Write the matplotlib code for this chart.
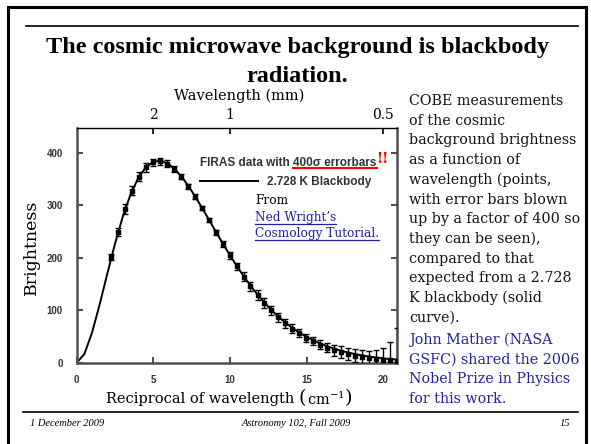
import numpy as np
import matplotlib
matplotlib.use('Agg')
import matplotlib.pyplot as plt
from matplotlib.patches import Rectangle
from matplotlib.lines import Line2D

W, H = 591, 444

# FIRAS points: reciprocal wavelength (cm^-1), brightness (MJy/sr), error bar x400
firas_nu = [2.27, 2.72, 3.18, 3.63, 4.08, 4.54, 4.99, 5.45, 5.90, 6.35, 6.81,
            7.26, 7.71, 8.17, 8.62, 9.08, 9.53, 9.98, 10.44, 10.89, 11.34,
            11.80, 12.25, 12.71, 13.16, 13.61, 14.07, 14.52, 14.97, 15.43,
            15.88, 16.34, 16.79, 17.24, 17.70, 18.15, 18.61, 19.06, 19.51,
            19.97, 20.42, 20.87]
firas_I = [200.7, 249.5, 293.0, 327.8, 354.1, 372.1, 381.5, 383.5, 378.9,
           368.8, 354.1, 336.3, 316.1, 293.9, 271.4, 248.2, 225.9, 204.3,
           183.3, 163.8, 145.8, 128.8, 113.6, 99.5, 86.7, 75.1, 64.9, 55.7,
           47.6, 40.4, 34.2, 28.8, 24.1, 20.0, 16.5, 13.6, 11.1, 8.9, 7.2,
           5.7, 4.5, 3.6]
firas_err = [5.6, 7.6, 10.0, 9.2, 8.8, 8.4, 7.2, 7.2, 6.4, 5.6, 5.2, 4.8, 4.4,
             4.0, 4.4, 4.8, 5.6, 6.4, 7.2, 8.8, 8.8, 9.2, 9.2, 9.2, 8.8, 8.4,
             8.0, 7.6, 7.6, 7.6, 8.4, 9.2, 10.4, 11.2, 12.0, 12.8, 13.2, 14.0,
             16.4, 22.0, 35.2, 62.0]

# 2.728 K blackbody curve
bb_nu = [0, 0.5, 1, 1.5, 2, 2.5, 3, 3.5, 4, 4.5, 5, 5.5, 6, 6.5, 7, 7.5, 8,
         8.5, 9, 9.5, 10, 10.5, 11, 11.5, 12, 12.5, 13, 13.5, 14, 14.5, 15,
         15.5, 16, 16.5, 17, 17.5, 18, 18.5, 19, 19.5, 20, 20.5, 21]
bb_I = [0, 16.5, 57.2, 111.2, 169.8, 226.7, 277.5, 319.3, 350.9, 371.9,
        382.8, 384.5, 378.4, 365.8, 348.3, 327.1, 303.6, 278.8, 253.6, 228.6,
        204.5, 181.7, 160.3, 140.6, 122.7, 106.5, 92.0, 79.1, 67.8, 57.8,
        49.2, 41.7, 35.2, 29.7, 24.9, 20.9, 17.5, 14.6, 12.1, 10.1, 8.3, 6.9,
        5.7]

yticks = [0, 100, 200, 300, 400]
xticks = [0, 5, 10, 15, 20]
top_ticks = [5, 10, 20]
top_labels = ['2', '1', '0.5']

right_text = ['COBE measurements', 'of the cosmic', 'background brightness',
              'as a function of', 'wavelength (points,', 'with error bars blown',
              'up by a factor of 400 so', 'they can be seen),', 'compared to that',
              'expected from a 2.728', 'K blackbody (solid', 'curve).']
blue_text = ['John Mather (NASA', 'GSFC) shared the 2006',
             'Nobel Prize in Physics', 'for this work.']

title_font = 'Liberation Serif'
serif = 'DejaVu Serif'
sans = 'Liberation Sans'
blue = '#2222a0'
axgray = '#505050'
plt.rcParams['mathtext.fontset'] = 'dejavuserif'

def P(x, y):
    # slide pixel position -> figure fraction
    return x / W, 1 - y / H

def hline(xa, xb, y, **kw):
    fig.lines.append(Line2D([xa / W, xb / W], [1 - y / H] * 2,
                            transform=fig.transFigure, **kw))

fig = plt.figure(figsize=(W / 100, H / 100), dpi=100)
fig.patch.set_facecolor('white')

# slide frame and rules
fig.patches.append(Rectangle(P(7.5, 447), (586 - 7.5) / W, (447 - 7.5) / H,
                             transform=fig.transFigure, fill=False,
                             edgecolor='black', linewidth=2.2))
hline(26, 578, 26, color='black', linewidth=1.2)
hline(23, 578, 412, color='black', linewidth=1.2)

fig.text(*P(297, 47), 'The cosmic microwave background is blackbody',
         ha='center', va='center', fontsize=17.5, fontweight='bold', family=title_font)
fig.text(*P(297, 77), 'radiation.', ha='center', va='center', fontsize=17.5,
         fontweight='bold', family=title_font)

# main plot
x0, x1, ytop, ybot = 76.7, 397, 128.5, 362.7
ax = fig.add_axes([x0 / W, 1 - ybot / H, (x1 - x0) / W, (ybot - ytop) / H])
ax.set_xlim(0, 20.9)
ax.set_ylim(0, 446)

ax.plot(bb_nu, bb_I, color='black', linewidth=1.4, zorder=2)
ax.errorbar(firas_nu, firas_I, yerr=firas_err, fmt='s', ms=2.2, color='black',
            ecolor='black', elinewidth=1.0, capsize=2.2, capthick=1.0, zorder=3)

for s in ['left', 'bottom', 'right']:
    ax.spines[s].set_color(axgray)
    ax.spines[s].set_linewidth(1.8)
ax.spines['top'].set_color('black')
ax.spines['top'].set_linewidth(1.0)

ax.set_xticks(xticks)
ax.set_yticks(yticks)
ax.set_xticklabels([str(v) for v in xticks])
ax.set_yticklabels([str(v) for v in yticks])
ax.tick_params(axis='both', direction='in', length=4.5, width=1.5, color=axgray,
               labelsize=7, labelcolor='#333333')
ax.tick_params(axis='x', pad=9)
ax.tick_params(axis='y', pad=10, right=True)
for lab in ax.get_xticklabels() + ax.get_yticklabels():
    lab.set_fontweight('bold')
    lab.set_family(sans)

top = ax.secondary_xaxis('top')
top.set_xticks(top_ticks)
top.set_xticklabels(top_labels)
top.tick_params(direction='in', length=4.5, width=1.2, color='black', labelsize=10, pad=5)
top.spines['top'].set_visible(False)
for lab in top.get_xticklabels():
    lab.set_family(serif)

fig.text(*P(239, 96), 'Wavelength (mm)', ha='center', va='center', fontsize=10.5, family=serif)
fig.text(*P(31, 247), 'Brightness', ha='center', va='center', rotation=90,
         fontsize=12.5, family=serif)

fig.canvas.draw()
renderer = fig.canvas.get_renderer()

# x label with tall parentheses, built from pieces and centred as a whole
ylab = 399
pieces = [('Reciprocal of wavelength ', 10.5, 0), ('(', 14, -1),
          (r'cm$^{\mathregular{-1}}$', 10.5, 0), (')', 14, -1)]
widths = []
for s, fs, dy in pieces:
    t = fig.text(0, 0, s, fontsize=fs, family=serif, alpha=0)
    widths.append(t.get_window_extent(renderer).width)
xs = 229 - sum(widths) / 2
for (s, fs, dy), w in zip(pieces, widths):
    fig.text(*P(xs, ylab + dy), s, ha='left', va='center', fontsize=fs,
             family=serif, fontweight='light')
    xs += w

# legend
leg_kw = dict(ha='left', va='center', fontsize=8.5, fontweight='bold', family=sans,
              color='#333333')
full = fig.text(*P(200, 163), 'FIRAS data with 400\u03c3 errorbars', **leg_kw)
pre = fig.text(*P(200, 163), 'FIRAS data with ', alpha=0, **leg_kw)
bf = full.get_window_extent(renderer)
bp = pre.get_window_extent(renderer)
hline(bp.x1, bf.x1 + 1, 168.5, color='red', linewidth=1.5)
fig.text(bf.x1 / W, 1 - 159 / H, '!!', ha='left', va='center', fontsize=10,
         fontweight='bold', family=serif, color='red')
hline(200, 258, 181.5, color='black', linewidth=1.4)
fig.text(*P(267, 182), '2.728 K Blackbody', **leg_kw)

fig.text(*P(255, 201), 'From', ha='left', va='center', fontsize=8.7, family=serif)
for yy, s in [(217, 'Ned Wright\u2019s'), (233, 'Cosmology Tutorial.')]:
    t = fig.text(*P(255, yy), s, ha='left', va='center', fontsize=8.7, family=serif, color=blue)
    bb = t.get_window_extent(renderer)
    hline(bb.x0, bb.x1, yy + 7, color=blue, linewidth=0.9)

# right column text
for i, s in enumerate(right_text):
    fig.text(*P(409, 101 + 19.7 * i), s, ha='left', va='center', fontsize=10.3,
             family=serif, color='#111111')
for i, s in enumerate(blue_text):
    fig.text(*P(409, 340 + 19.7 * i), s, ha='left', va='center', fontsize=10.3,
             family=serif, color=blue)

# footer
fig.text(*P(30, 423), '1 December 2009', ha='left', va='center', fontsize=7.5,
         style='italic', family=title_font)
fig.text(*P(296, 423), 'Astronomy 102, Fall 2009', ha='center', va='center', fontsize=7.5,
         style='italic', family=title_font)
fig.text(*P(570, 423), '15', ha='right', va='center', fontsize=7.5,
         style='italic', family=title_font)

fig.savefig('out.png', dpi=100)
